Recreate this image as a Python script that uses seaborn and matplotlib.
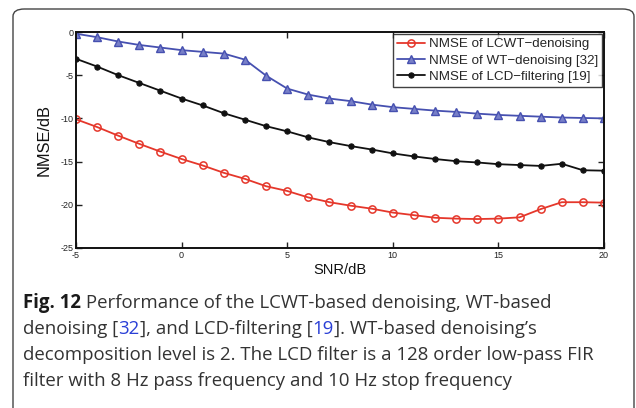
import matplotlib
matplotlib.use("Agg")
import matplotlib.pyplot as plt
from matplotlib.patches import FancyBboxPatch
import seaborn as sns
import pandas as pd

# SNR sweep (dB)
snr = [-5, -4, -3, -2, -1, 0, 1, 2, 3, 4, 5, 6, 7, 8, 9, 10,
       11, 12, 13, 14, 15, 16, 17, 18, 19, 20]

# NMSE (dB) of each method
nmse_lcwt = [-10.1, -11.0, -12.0, -12.95, -13.85, -14.7, -15.45, -16.3, -17.0,
             -17.85, -18.4, -19.15, -19.7, -20.1, -20.45, -20.9, -21.2, -21.5,
             -21.6, -21.65, -21.6, -21.45, -20.5, -19.7, -19.7, -19.75]
nmse_wt = [-0.2, -0.6, -1.1, -1.5, -1.8, -2.1, -2.3, -2.5, -3.2, -5.05, -6.55,
           -7.25, -7.7, -8.0, -8.4, -8.7, -8.9, -9.1, -9.25, -9.45, -9.6, -9.7,
           -9.8, -9.9, -9.95, -10.0]
nmse_lcd = [-3.1, -4.0, -5.0, -5.9, -6.8, -7.7, -8.5, -9.4, -10.15, -10.9,
            -11.5, -12.2, -12.75, -13.2, -13.6, -14.05, -14.4, -14.7, -14.95,
            -15.1, -15.3, -15.4, -15.5, -15.25, -16.0, -16.05]

series_labels = ["NMSE of LCWT\u2212denoising",
                 "NMSE of WT\u2212denoising [32]",
                 "NMSE of LCD\u2212filtering [19]"]

x_ticks = [-5, 0, 5, 10, 15, 20]
y_ticks = [-25, -20, -15, -10, -5, 0]

caption_lines = [
    [("Fig. 12", "#1a1a1a", "bold"), (" Performance of the LCWT-based denoising, WT-based", "#333333", "normal")],
    [("denoising [", "#333333", "normal"), ("32", "#2a3fd6", "normal"), ("], and LCD-filtering [", "#333333", "normal"),
     ("19", "#2a3fd6", "normal"), ("]. WT-based denoising\u2019s", "#333333", "normal")],
    [("decomposition level is 2. The LCD filter is a 128 order low-pass FIR", "#333333", "normal")],
    [("filter with 8 Hz pass frequency and 10 Hz stop frequency", "#333333", "normal")],
]

sns.set_style("ticks")
plt.rcParams["font.family"] = ["Liberation Sans", "DejaVu Sans"]
plt.rcParams["axes.unicode_minus"] = False

W, H = 636, 408
fig = plt.figure(figsize=(W / 100, H / 100), dpi=100)
fig.patch.set_facecolor("white")

# rounded outer frame around figure + caption
frame = FancyBboxPatch((13 / W, -0.2), (634 - 13) / W, (H - 9) / H + 0.2,
                       boxstyle="round,pad=0,rounding_size=0.018",
                       transform=fig.transFigure, fill=False,
                       edgecolor="#444444", linewidth=1.0, zorder=0)
fig.patches.append(frame)

ax = fig.add_axes([76 / W, 1 - 248 / H, (604 - 76) / W, (248 - 32) / H])

df = pd.DataFrame({"snr": snr, "lcwt": nmse_lcwt, "wt": nmse_wt, "lcd": nmse_lcd})

sns.lineplot(data=df, x="snr", y="lcwt", ax=ax, color="#e5372b", lw=1.3,
             marker="o", markersize=5.2, markerfacecolor="none",
             markeredgecolor="#e5372b", markeredgewidth=1.1,
             label=series_labels[0])
sns.lineplot(data=df, x="snr", y="wt", ax=ax, color="#4650b0", lw=1.3,
             marker="^", markersize=6.2, markerfacecolor="#7880c8",
             markeredgecolor="#4650b0", markeredgewidth=1.0,
             label=series_labels[1])
sns.lineplot(data=df, x="snr", y="lcd", ax=ax, color="#111111", lw=1.3,
             marker="o", markersize=3.8, markerfacecolor="#111111",
             markeredgecolor="#111111", label=series_labels[2])

ax.set_xlim(-5, 20)
ax.set_ylim(-25, 0)
ax.set_xticks(x_ticks)
ax.set_yticks(y_ticks)
ax.set_xticklabels([str(v) for v in x_ticks])
ax.set_yticklabels([str(v) for v in y_ticks])
ax.tick_params(direction="in", length=4, width=1.0, labelsize=6.5,
               colors="#222222", top=True, right=True, pad=2)
for s in ax.spines.values():
    s.set_visible(True)
    s.set_linewidth(1.4)
    s.set_color("#111111")

ax.set_xlabel("SNR/dB", fontsize=10.5, labelpad=2, color="#111111")
ax.set_ylabel("NMSE/dB", fontsize=11.8, labelpad=6, color="#111111")

leg = ax.legend(loc="upper right", fontsize=9.6, frameon=True, fancybox=False,
                borderaxespad=0.15, handlelength=2.1, handletextpad=0.25,
                borderpad=0.3, labelspacing=0.3)
leg.get_frame().set_edgecolor("#111111")
leg.get_frame().set_linewidth(1.0)

# caption, drawn segment by segment so the citation numbers can be coloured
fig.canvas.draw()
renderer = fig.canvas.get_renderer()
cap_font = ["Open Sans", "DejaVu Sans"]
x0 = 23
baselines = [308, 334, 360, 386]
for segs, yb in zip(caption_lines, baselines):
    x = x0
    for txt, col, wt in segs:
        t = fig.text(x / W, 1 - yb / H, txt, fontsize=13.4, family=cap_font,
                     color=col, weight=wt, ha="left", va="baseline")
        bb = t.get_window_extent(renderer=renderer)
        x += bb.width

fig.savefig("out.png", dpi=100, facecolor="white")
